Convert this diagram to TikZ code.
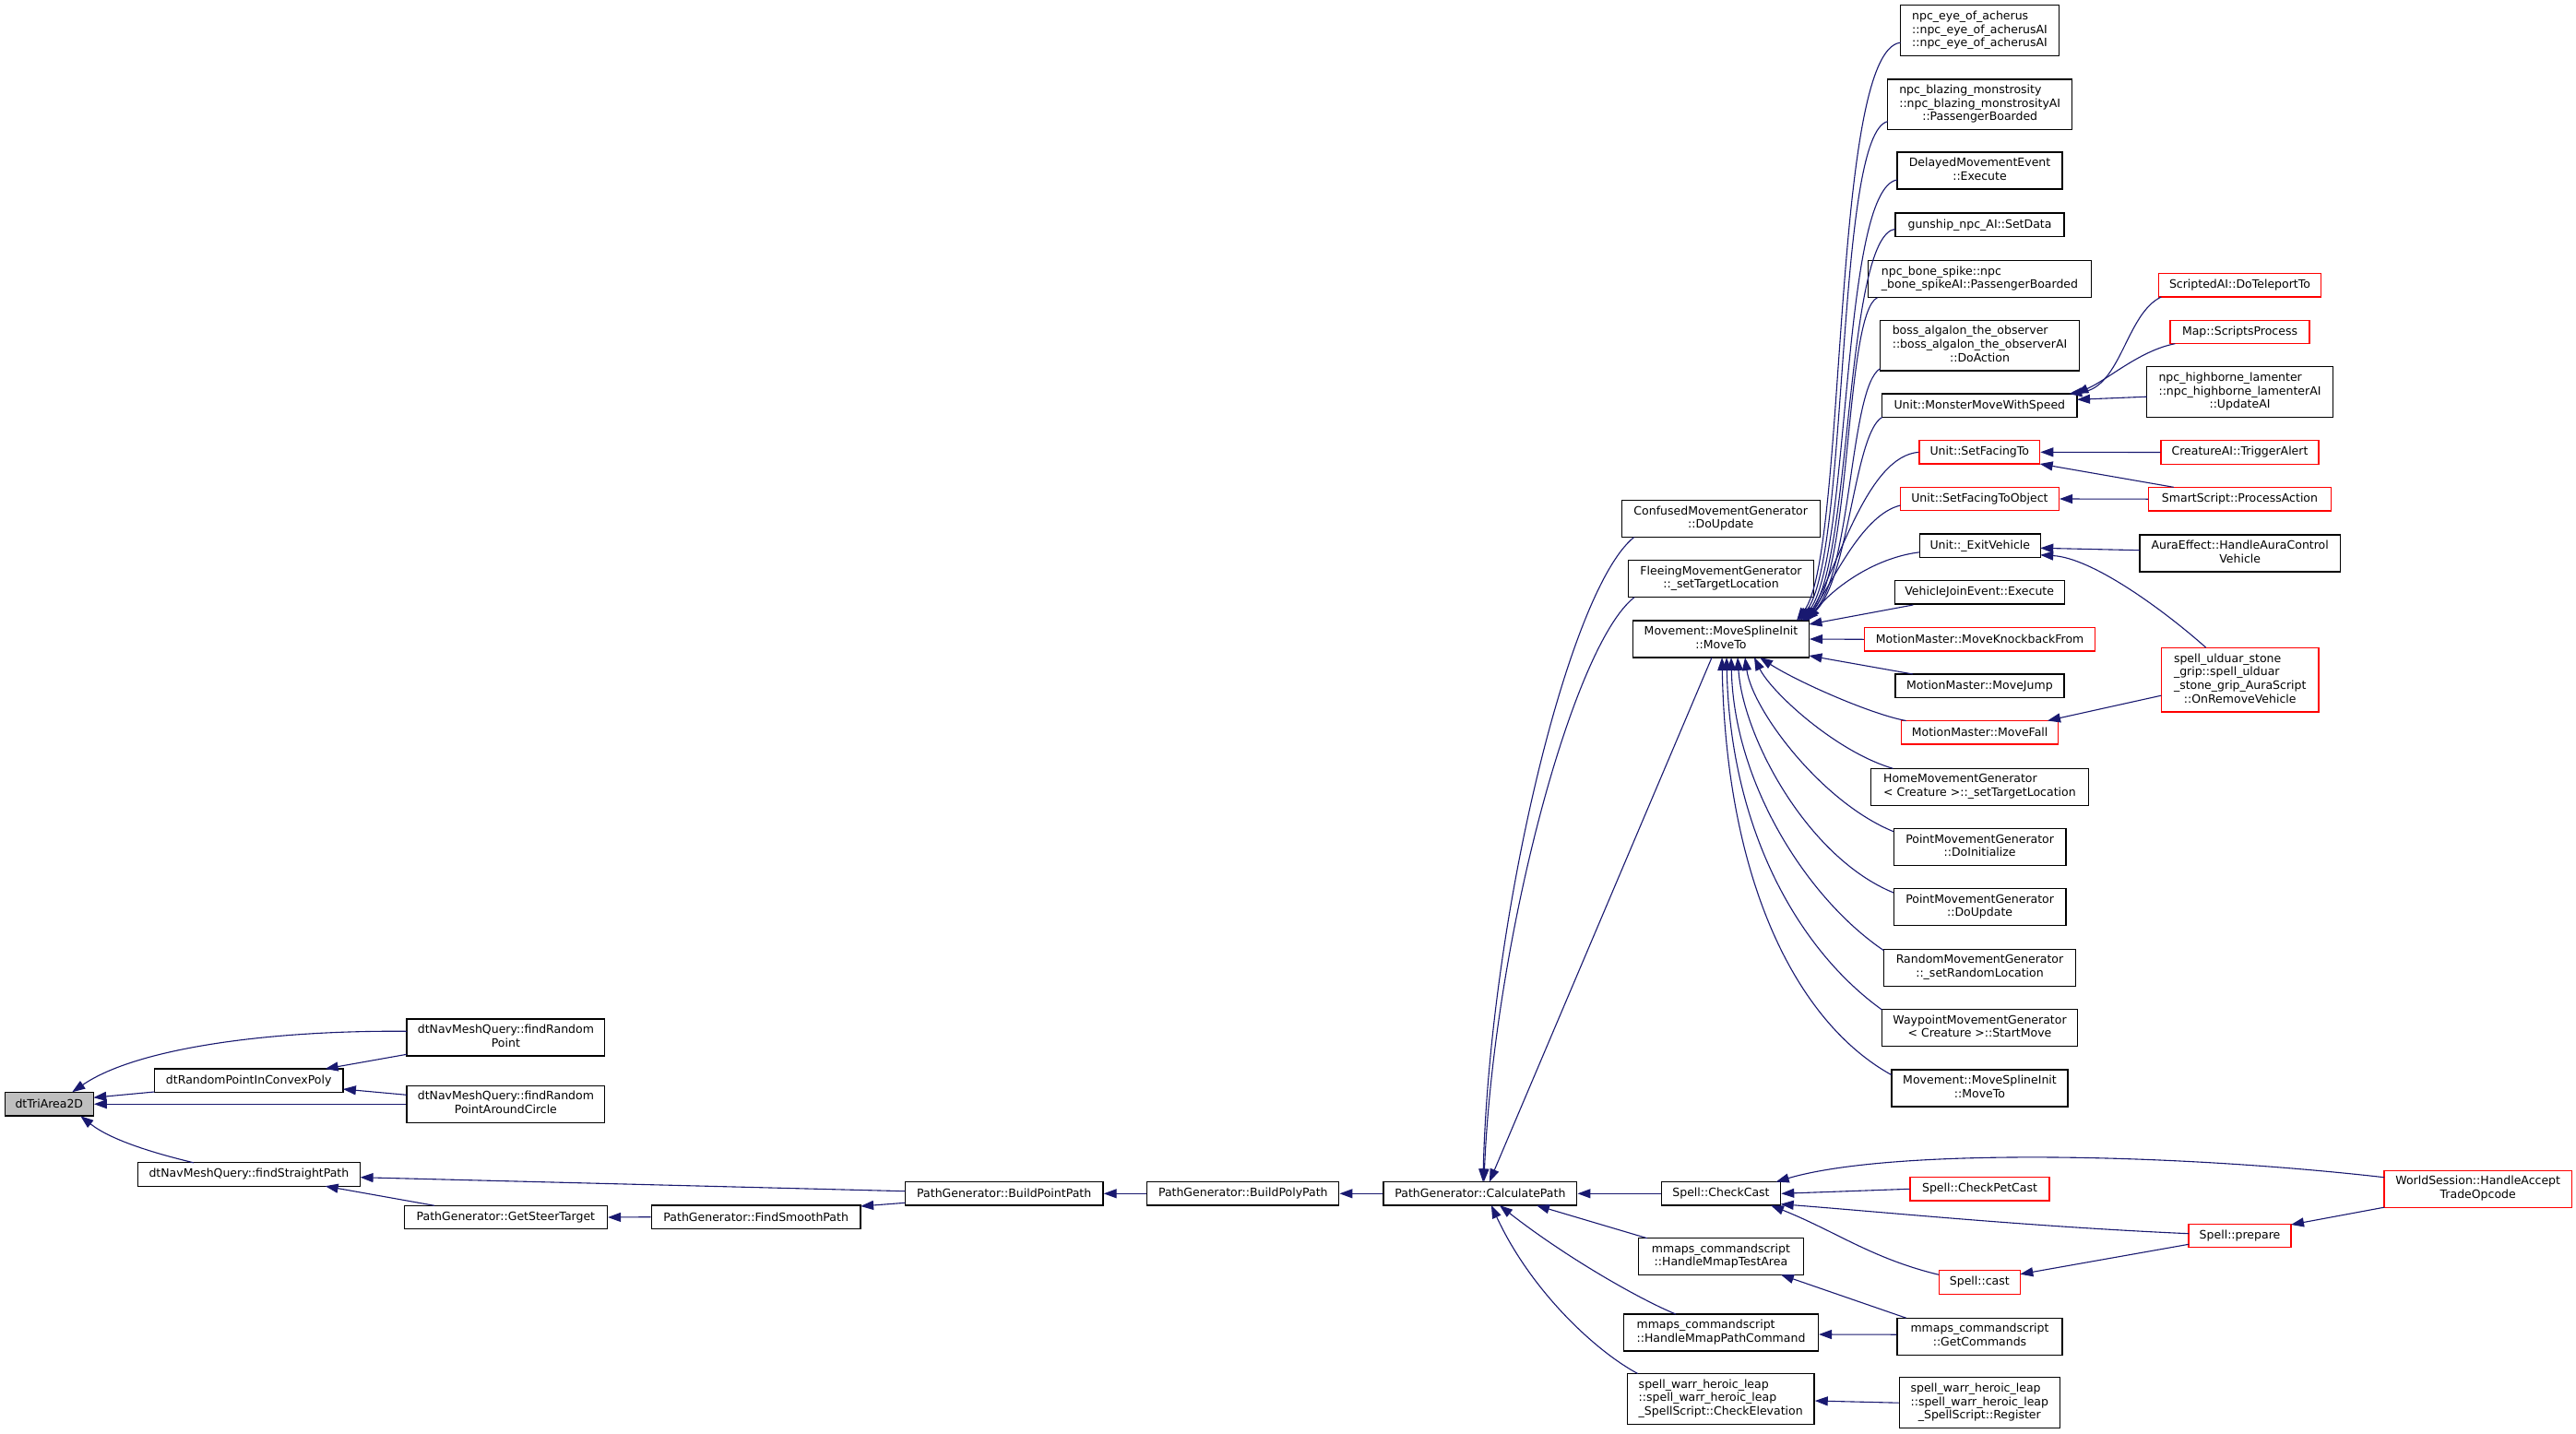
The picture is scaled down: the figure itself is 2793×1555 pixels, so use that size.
\documentclass[tikz,border=0pt]{standalone}
\usepackage{fontspec}
\setmainfont{DejaVu Sans}
\usetikzlibrary{arrows.meta,calc}
\definecolor{edgeblue}{HTML}{191970}
\definecolor{rootgray}{HTML}{BFBFBF}
\definecolor{trunc}{HTML}{FF0000}
\newcommand{\lns}[2]{\begin{tabular}{@{}l@{}}#1\\\multicolumn{1}{@{}c@{}}{#2}\end{tabular}}
\begin{document}
\begin{tikzpicture}[x=1pt,y=-1pt,
  box/.style={draw=black,line width=1.3pt,fill=white,inner sep=0pt,align=center,
    font=\fontsize{12.5pt}{14.7pt}\selectfont},
  redbox/.style={box,draw=trunc},
  rootbox/.style={box,fill=rootgray},
  edge/.style={draw=edgeblue,line width=1.1pt,-{Triangle[length=14pt,width=10pt]}}]
\useasboundingbox (0,0) rectangle (2793,1555);
\fill[white] (0,0) rectangle (2793,1555);
% ---------- nodes ----------
\node[rootbox,minimum width=96pt,minimum height=25.7pt] (tri) at (53.3,1197.2) {dtTriArea2D};
\node[box,minimum width=204.5pt,minimum height=25.5pt] (cvx) at (269.7,1171.7) {dtRandomPointInConvexPoly};
\node[box,minimum width=214.7pt,minimum height=40pt] (frp) at (548.4,1125) {\lns{dtNavMeshQuery::findRandom}{Point}};
\node[box,minimum width=214.7pt,minimum height=40pt] (frpc) at (548.4,1197.2) {\lns{dtNavMeshQuery::findRandom}{PointAroundCircle}};
\node[box,minimum width=241.5pt,minimum height=25.5pt] (fsp) at (269.9,1273.5) {dtNavMeshQuery::findStraightPath};
\node[box,minimum width=220pt,minimum height=25.5pt] (gst) at (548.4,1320) {PathGenerator::GetSteerTarget};
\node[box,minimum width=226.8pt,minimum height=25.5pt] (fsm) at (819.7,1319.7) {PathGenerator::FindSmoothPath};
\node[box,minimum width=214.7pt,minimum height=25.5pt] (bpp) at (1088.7,1294.3) {PathGenerator::BuildPointPath};
\node[box,minimum width=208pt,minimum height=25.5pt] (bpoly) at (1347.8,1294.3) {PathGenerator::BuildPolyPath};
\node[box,minimum width=209.8pt,minimum height=25.5pt] (calc) at (1604.9,1294.3) {PathGenerator::CalculatePath};
\node[box,minimum width=215pt,minimum height=40pt] (conf) at (1865.7,562.5) {\lns{ConfusedMovementGenerator}{::DoUpdate}};
\node[box,minimum width=200.7pt,minimum height=40pt] (flee) at (1866,627.7) {\lns{FleeingMovementGenerator}{::\_setTargetLocation}};
\node[box,minimum width=190.7pt,minimum height=40pt] (mt) at (1866,693) {\lns{Movement::MoveSplineInit}{::MoveTo}};
\node[box,minimum width=129.3pt,minimum height=25.5pt] (cc) at (1866,1294.3) {Spell::CheckCast};
\node[box,minimum width=179pt,minimum height=40pt] (mta) at (1865.9,1362.5) {\lns{mmaps\_commandscript}{::HandleMmapTestArea}};
\node[box,minimum width=210.7pt,minimum height=40pt] (mpc) at (1866,1445) {\lns{mmaps\_commandscript}{::HandleMmapPathCommand}};
\node[box,minimum width=202.8pt,minimum height=55pt] (ce) at (1865.7,1517) {\lns{spell\_warr\_heroic\_leap\\::spell\_warr\_heroic\_leap}{\_SpellScript::CheckElevation}};
\node[box,minimum width=172.3pt,minimum height=55pt] (eye) at (2146.5,33.2) {\lns{npc\_eye\_of\_acherus\\::npc\_eye\_of\_acherusAI}{::npc\_eye\_of\_acherusAI}};
\node[box,minimum width=200pt,minimum height=54.5pt] (blz) at (2146.7,113.2) {\lns{npc\_blazing\_monstrosity\\::npc\_blazing\_monstrosityAI}{::PassengerBoarded}};
\node[box,minimum width=179pt,minimum height=40pt] (dme) at (2146.5,185) {\lns{DelayedMovementEvent}{::Execute}};
\node[box,minimum width=183pt,minimum height=25.5pt] (gun) at (2146.5,243.8) {gunship\_npc\_AI::SetData};
\node[box,minimum width=241.7pt,minimum height=40pt] (bone) at (2146.5,302.7) {\lns{npc\_bone\_spike::npc}{\_bone\_spikeAI::PassengerBoarded}};
\node[box,minimum width=216.3pt,minimum height=54.7pt] (alg) at (2146.5,374.7) {\lns{boss\_algalon\_the\_observer\\::boss\_algalon\_the\_observerAI}{::DoAction}};
\node[box,minimum width=211.3pt,minimum height=25.5pt] (mmws) at (2146.3,439.7) {Unit::MonsterMoveWithSpeed};
\node[redbox,minimum width=130.7pt,minimum height=25.5pt] (sft) at (2146.3,490.3) {Unit::SetFacingTo};
\node[redbox,minimum width=172pt,minimum height=25.5pt] (sfto) at (2146.4,541) {Unit::SetFacingToObject};
\node[box,minimum width=130.7pt,minimum height=25.5pt] (exv) at (2146.8,591.8) {Unit::\_ExitVehicle};
\node[box,minimum width=184pt,minimum height=25.5pt] (vje) at (2146.2,642.3) {VehicleJoinEvent::Execute};
\node[redbox,minimum width=250.4pt,minimum height=25.5pt] (mkb) at (2146.6,693.3) {MotionMaster::MoveKnockbackFrom};
\node[box,minimum width=182.9pt,minimum height=25.5pt] (mj) at (2146.4,743.8) {MotionMaster::MoveJump};
\node[redbox,minimum width=170.4pt,minimum height=25.5pt] (mf) at (2146.6,794.3) {MotionMaster::MoveFall};
\node[box,minimum width=236.4pt,minimum height=40pt] (home) at (2146.4,853.3) {\lns{HomeMovementGenerator}{< Creature >::\_setTargetLocation}};
\node[box,minimum width=186.8pt,minimum height=40pt] (pmi) at (2146.6,918.7) {\lns{PointMovementGenerator}{::DoInitialize}};
\node[box,minimum width=186.8pt,minimum height=40pt] (pmu) at (2146.6,983.7) {\lns{PointMovementGenerator}{::DoUpdate}};
\node[box,minimum width=208.3pt,minimum height=40pt] (rmg) at (2146.5,1049.2) {\lns{RandomMovementGenerator}{::\_setRandomLocation}};
\node[box,minimum width=212.3pt,minimum height=40pt] (wmg) at (2146.5,1114.5) {\lns{WaypointMovementGenerator}{< Creature >::StartMove}};
\node[box,minimum width=191pt,minimum height=40pt] (mt2) at (2146.5,1180) {\lns{Movement::MoveSplineInit}{::MoveTo}};
\node[redbox,minimum width=151pt,minimum height=25.5pt] (cpc) at (2146.5,1289.3) {Spell::CheckPetCast};
\node[redbox,minimum width=88pt,minimum height=26pt] (cast) at (2146.3,1390.3) {Spell::cast};
\node[box,minimum width=179pt,minimum height=40pt] (gc) at (2146.5,1449.2) {\lns{mmaps\_commandscript}{::GetCommands}};
\node[box,minimum width=174pt,minimum height=55pt] (reg) at (2146.3,1521.2) {\lns{spell\_warr\_heroic\_leap\\::spell\_warr\_heroic\_leap}{\_SpellScript::Register}};
\node[redbox,minimum width=176.3pt,minimum height=25.5pt] (tele) at (2428.5,309.2) {ScriptedAI::DoTeleportTo};
\node[redbox,minimum width=151pt,minimum height=25.5pt] (msp) at (2428.5,360) {Map::ScriptsProcess};
\node[box,minimum width=201.7pt,minimum height=55pt] (hbl) at (2428.5,425.2) {\lns{npc\_highborne\_lamenter\\::npc\_highborne\_lamenterAI}{::UpdateAI}};
\node[redbox,minimum width=171pt,minimum height=25.5pt] (tra) at (2428.5,490.5) {CreatureAI::TriggerAlert};
\node[redbox,minimum width=197.7pt,minimum height=25.5pt] (pa) at (2428.5,541.2) {SmartScript::ProcessAction};
\node[box,minimum width=217.3pt,minimum height=40pt] (aura) at (2428.7,600) {\lns{AuraEffect::HandleAuraControl}{Vehicle}};
\node[redbox,minimum width=170.7pt,minimum height=69.7pt] (sug) at (2428.7,737.2) {\lns{spell\_ulduar\_stone\\\_grip::spell\_ulduar\\\_stone\_grip\_AuraScript}{::OnRemoveVehicle}};
\node[redbox,minimum width=203.3pt,minimum height=40pt] (ws) at (2686.7,1289.2) {\lns{WorldSession::HandleAccept}{TradeOpcode}};
\node[redbox,minimum width=111pt,minimum height=25.5pt] (prep) at (2428.5,1340) {Spell::prepare};
% ---------- edges: left cluster ----------
\draw[edge] ($(cvx)+(-102.3,12.3)$) -- ($(tri)+(48,-7)$);
\draw[edge] ($(frp)+(-107.4,-6.7)$) .. controls (300,1117) and (150,1135) .. ($(tri)+(25,-13)$);
\draw[edge] (frpc.west) -- (tri.east);
\draw[edge] ($(fsp)+(-60,-12.7)$) .. controls (165,1250) and (120,1236) .. ($(tri)+(34,13)$);
\draw[edge] ($(frp)+(-107.4,18.3)$) -- ($(cvx)+(83,-12.7)$);
\draw[edge] ($(frpc)+(-107.4,-9.9)$) -- ($(cvx)+(102.2,9.3)$);
\draw[edge] ($(bpp)+(-107.4,-2.6)$) -- ($(fsp)+(120.7,3.2)$);
\draw[edge] ($(gst)+(-77.4,-12.7)$) -- ($(fsp)+(82.8,12.7)$);
\draw[edge] (fsm.west) -- (gst.east);
\draw[edge] ($(bpp)+(-107.4,10)$) -- ($(fsm)+(113.4,-11.7)$);
\draw[edge] (bpoly.west) -- (bpp.east);
\draw[edge] (calc.west) -- (bpoly.east);
% ---------- callers of CalculatePath ----------
\draw[edge] ($(conf)+(-94,20)$) .. controls (1700,640) and (1615,1000) .. ($(calc)+(3,-12.8)$);
\draw[edge] ($(flee)+(-94,20)$) .. controls (1705,700) and (1620,1020) .. ($(calc)+(4,-12.8)$);
\draw[edge] ($(mt)+(-10,20)$) -- ($(calc)+(10,-12.8)$);
\draw[edge] (cc.west) -- (calc.east);
\draw[edge] ($(mta)+(-80,-19.8)$) -- ($(calc)+(61,12.8)$);
\draw[edge] ($(mpc)+(-49,-20)$) .. controls (1780,1410) and (1700,1365) .. ($(calc)+(21,12.8)$);
\draw[edge] ($(ce)+(-90,-27.5)$) .. controls (1730,1465) and (1660,1400) .. ($(calc)+(12,12.8)$);
% ---------- callers of MoveTo (upper fan) ----------
\draw[edge] ($(eye)+(-86,13)$) .. controls (1985,55) and (2003,600) .. ($(mt)+(82,-20)$);
\draw[edge] ($(blz)+(-100,18.5)$) .. controls (1990,145) and (2005,605) .. ($(mt)+(84,-20)$);
\draw[edge] ($(dme)+(-89.5,10)$) .. controls (1995,205) and (2007,610) .. ($(mt)+(86,-20)$);
\draw[edge] ($(gun)+(-91.5,4.5)$) .. controls (2000,255) and (2008,615) .. ($(mt)+(88,-20)$);
\draw[edge] ($(bone)+(-111,20)$) .. controls (2000,340) and (2008,620) .. ($(mt)+(89,-20)$);
\draw[edge] ($(alg)+(-108,25)$) .. controls (2005,420) and (2008,625) .. ($(mt)+(90,-20)$);
\draw[edge] ($(mmws)+(-105.6,12.7)$) .. controls (2010,470) and (2005,630) .. ($(mt)+(91,-20)$);
\draw[edge] (sft.west) .. controls (2025,495) and (1995,610) .. ($(mt)+(92,-20)$);
\draw[edge] ($(sfto)+(-86,7)$) .. controls (2020,558) and (1990,625) .. ($(mt)+(93,-20)$);
\draw[edge] ($(exv)+(-65.4,7)$) .. controls (2030,605) and (1985,640) .. ($(mt)+(94,-20)$);
\draw[edge] ($(vje)+(-72,13.7)$) -- ($(mt)+(95.4,-16)$);
\draw[edge] (mkb.west) -- (mt.east);
\draw[edge] ($(mj)+(-72.4,-12.8)$) -- ($(mt)+(95.4,18)$);
% ---------- callers of MoveTo (lower fan) ----------
\draw[edge] ($(mf)+(-80,-12.8)$) .. controls (2030,775) and (1950,740) .. ($(mt)+(42,20)$);
\draw[edge] ($(home)+(-94,-20)$) .. controls (1990,815) and (1920,750) .. ($(mt)+(36,20)$);
\draw[edge] ($(pmi)+(-93.6,-17)$) .. controls (1975,870) and (1900,770) .. ($(mt)+(26,20)$);
\draw[edge] ($(pmu)+(-93.6,-15.7)$) .. controls (1960,930) and (1890,800) .. ($(mt)+(18,20)$);
\draw[edge] ($(rmg)+(-104,-18.5)$) .. controls (1960,975) and (1880,850) .. ($(mt)+(11,20)$);
\draw[edge] ($(wmg)+(-106,-19.5)$) .. controls (1950,1030) and (1876,900) .. ($(mt)+(6,20)$);
\draw[edge] ($(mt2)+(-95.5,-14.3)$) .. controls (1950,1110) and (1872,960) .. ($(mt)+(1,20)$);
% ---------- right side ----------
\draw[edge] ($(tele)+(-85.2,12.8)$) .. controls (2305,340) and (2300,420) .. ($(mmws)+(97,-12.7)$);
\draw[edge] ($(msp)+(-70.2,12.7)$) .. controls (2320,380) and (2285,412) .. ($(mmws)+(104,-12.7)$);
\draw[edge] ($(hbl)+(-100.8,5)$) -- ($(mmws)+(105.7,-6.4)$);
\draw[edge] (tra.west) -- (sft.east);
\draw[edge] ($(pa)+(-71.8,-12.9)$) -- ($(sft)+(65.35,12.7)$);
\draw[edge] (pa.west) -- (sfto.east);
\draw[edge] ($(aura)+(-108.7,-3.3)$) -- ($(exv)+(65.4,2.5)$);
\draw[edge] ($(sug)+(-37,-35)$) .. controls (2350,665) and (2270,605) .. ($(exv)+(65.4,10)$);
\draw[edge] ($(sug)+(-85.4,17)$) -- ($(mf)+(73.4,-12.8)$);
% ---------- spell cluster ----------
\draw[edge] ($(ws)+(-101.7,-12.5)$) .. controls (2350,1250) and (2050,1245) .. ($(cc)+(59.7,-12.8)$);
\draw[edge] (cpc.west) -- (cc.east);
\draw[edge] ($(prep)+(-55.5,-2.3)$) .. controls (2200,1330) and (2050,1315) .. ($(cc)+(64.65,11.4)$);
\draw[edge] ($(cast)+(-44,-8)$) .. controls (2030,1365) and (1990,1335) .. ($(cc)+(54,12.8)$);
\draw[edge] ($(prep)+(-55.5,9.3)$) -- ($(cast)+(44,-8.6)$);
\draw[edge] ($(ws)+(-101.7,20)$) -- ($(prep)+(55.5,-12)$);
\draw[edge] ($(gc)+(-79.8,-20)$) -- ($(mta)+(65,19.8)$);
\draw[edge] ($(gc.west)+(0,-2)$) -- ($(mpc.east)+(0,2)$);
\draw[edge] (reg.west) -- ($(ce.east)+(0,2)$);
\end{tikzpicture}
\end{document}
